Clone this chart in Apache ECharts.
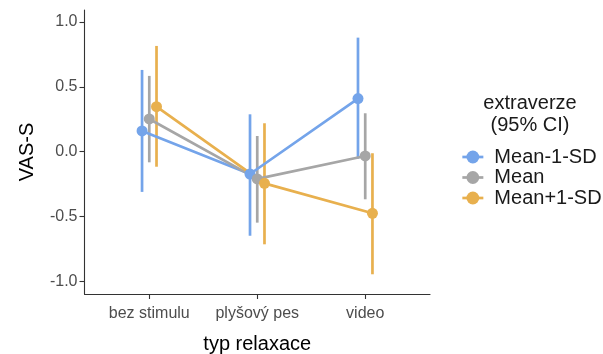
<!DOCTYPE html>
<html>
<head>
<meta charset="utf-8">
<script src="https://cdn.jsdelivr.net/npm/echarts@6/dist/echarts.min.js"></script>
<style>
  html, body { margin: 0; padding: 0; background: #fff; }
  #chart { width: 603px; height: 354px; }
</style>
</head>
<body>
<div id="chart"></div>
<script>
// Relaxation type categories (x axis)
const categories = ['bez stimulu', 'plyšový pes', 'video'];
// Group names (extraversion levels)
const groups = ['Mean-1-SD', 'Mean', 'Mean+1-SD'];
const groupColors = ['#74A4EA', '#A6A6A6', '#E8B04E'];

// Estimated marginal means of VAS-S
const meanLow  = [0.16, -0.172, 0.409];
const meanMid  = [0.252, -0.21, -0.033];
const meanHigh = [0.347, -0.244, -0.475];
// 95% CI lower bounds
const ciLowLow  = [-0.31, -0.648, -0.055];
const ciLowMid  = [-0.082, -0.547, -0.367];
const ciLowHigh = [-0.116, -0.714, -0.945];
// 95% CI upper bounds
const ciHighLow  = [0.63, 0.288, 0.879];
const ciHighMid  = [0.584, 0.121, 0.296];
const ciHighHigh = [0.815, 0.219, -0.012];

const yTicks = [-1.0, -0.5, 0.0, 0.5, 1.0];

const means = [meanLow, meanMid, meanHigh];
const lows = [ciLowLow, ciLowMid, ciLowHigh];
const highs = [ciHighLow, ciHighMid, ciHighHigh];
const dodge = [-0.067, 0, 0.067];

const font = "'Liberation Sans', Arial, sans-serif";
const chart = echarts.init(document.getElementById('chart'));

const series = [];
// Mean lines with points (listed first so the legend uses their icon)
groups.forEach((g, gi) => {
  series.push({
    name: g,
    type: 'line',
    z: 3,
    symbol: 'circle',
    symbolSize: 11,
    showSymbol: true,
    lineStyle: { color: groupColors[gi], width: 2.7 },
    itemStyle: { color: groupColors[gi] },
    data: categories.map((c, ci) => [ci + 1 + dodge[gi], means[gi][ci]])
  });
});
// 95% CI error bars
groups.forEach((g, gi) => {
  series.push({
    name: g,
    type: 'custom',
    z: 2,
    silent: true,
    encode: { x: 0, y: [1, 2] },
    data: categories.map((c, ci) => [ci + 1 + dodge[gi], lows[gi][ci], highs[gi][ci]]),
    renderItem: function (params, api) {
      const p1 = api.coord([api.value(0), api.value(1)]);
      const p2 = api.coord([api.value(0), api.value(2)]);
      return {
        type: 'line',
        shape: { x1: p1[0], y1: p1[1], x2: p2[0], y2: p2[1] },
        style: { stroke: groupColors[gi], lineWidth: 2.7 }
      };
    }
  });
});

chart.setOption({
  animation: false,
  color: groupColors,
  grid: { left: 84.5, right: 173, top: 10, bottom: 60, containLabel: false, outerBoundsMode: 'none' },
  xAxis: {
    type: 'value',
    min: 0.4,
    max: 3.6,
    name: 'typ relaxace',
    nameLocation: 'middle',
    nameGap: 40,
    nameTextStyle: { fontFamily: font, fontSize: 20, color: '#000' },
    splitLine: { show: false },
    axisLine: { show: true, onZero: false, lineStyle: { color: '#333', width: 1.1 } },
    axisTick: { show: true, length: 5, lineStyle: { color: '#333', width: 1.1 }, customValues: [1, 2, 3] },
    axisLabel: {
      customValues: [1, 2, 3],
      margin: 12,
      fontFamily: font,
      fontSize: 16,
      color: '#4D4D4D',
      formatter: v => categories[Math.round(v) - 1]
    }
  },
  yAxis: {
    type: 'value',
    min: -1.097,
    max: 1.092,
    name: 'VAS-S',
    nameLocation: 'middle',
    nameGap: 47,
    nameTextStyle: { fontFamily: font, fontSize: 20, color: '#000' },
    splitLine: { show: false },
    axisLine: { show: true, onZero: false, lineStyle: { color: '#333', width: 1.1 } },
    axisTick: { show: true, length: 5, lineStyle: { color: '#333', width: 1.1 }, customValues: yTicks },
    axisLabel: {
      customValues: yTicks,
      margin: 7,
      fontFamily: font,
      fontSize: 16,
      color: '#4D4D4D',
      formatter: v => v.toFixed(1)
    }
  },
  legend: {
    data: groups,
    orient: 'vertical',
    left: 461,
    top: 147,
    padding: 0,
    itemWidth: 21,
    itemHeight: 16,
    itemGap: 0.5,
    lineStyle: { width: 2.7 },
    textStyle: { fontFamily: font, fontSize: 20, color: '#1a1a1a', padding: [0, 0, 0, 6], lineHeight: 20 }
  },
  graphic: [
    {
      type: 'text',
      x: 530,
      y: 92,
      style: {
        text: 'extraverze\n(95% CI)',
        fontFamily: font,
        fontSize: 20,
        lineHeight: 22,
        fill: '#1a1a1a',
        align: 'center'
      }
    }
  ],
  series: series
});
</script>
</body>
</html>
